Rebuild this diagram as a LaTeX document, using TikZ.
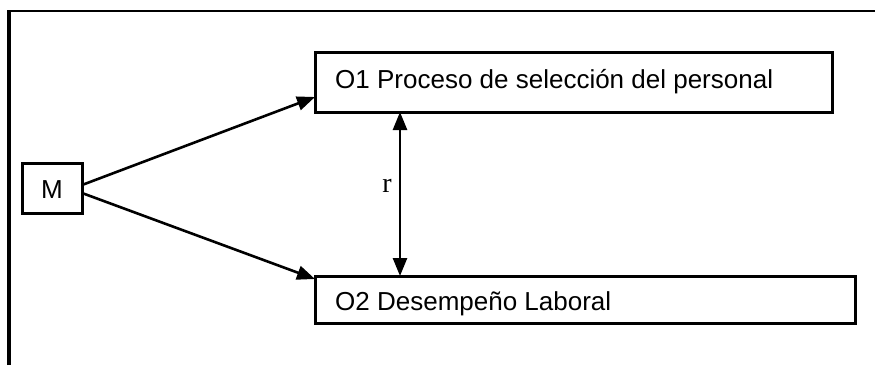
\documentclass[tikz,border=0pt]{standalone}
\usepackage{fontspec}
\setmainfont{Liberation Sans}
\newfontfamily\serifr{Liberation Serif}
\usetikzlibrary{arrows.meta}
\begin{document}
\begin{tikzpicture}[x=1pt,y=-1pt,
  box/.style={draw,line width=3pt},
  lbl/.style={font=\fontsize{26}{30}\selectfont,inner sep=0pt},
  link/.style={line width=2.6pt,-{Triangle[length=18pt,width=14pt]}}]
\useasboundingbox (0,0) rectangle (875,365);
% open outer frame: heavier left side, lighter top
\draw[line width=3.2pt] (9,365) -- (9,10.2);
\draw[line width=2.2pt] (7.4,11) -- (875,11);
% boxes
\node[box,minimum width=60pt,minimum height=50pt] (m) at (52,188) {};
\node[lbl] at (52,190) {M};
\draw[box] (315,52) rectangle (832,112);
\coordinate (o1w) at (315,97);
\coordinate (o1s) at (400,112);
\node[lbl,anchor=base west] (o1) at (335,88) {O1 Proceso de selección del personal};
\draw[box] (315,276) rectangle (855,323);
\coordinate (o2w) at (315,279);
\coordinate (o2n) at (400,276);
\node[lbl,anchor=base west] (o2) at (335,310) {O2 Desempeño Laboral};
% connectors
\draw[link] (82,185) -- (o1w);
\draw[link] (82,193) -- (o2w);
\draw[line width=2.6pt,{Triangle[length=18pt,width=14pt]}-{Triangle[length=18pt,width=14pt]}] (o1s) -- (o2n);
\node[font=\serifr\fontsize{28}{32}\selectfont,inner sep=0pt,anchor=base] (r) at (387,192) {r};
\end{tikzpicture}
\end{document}
